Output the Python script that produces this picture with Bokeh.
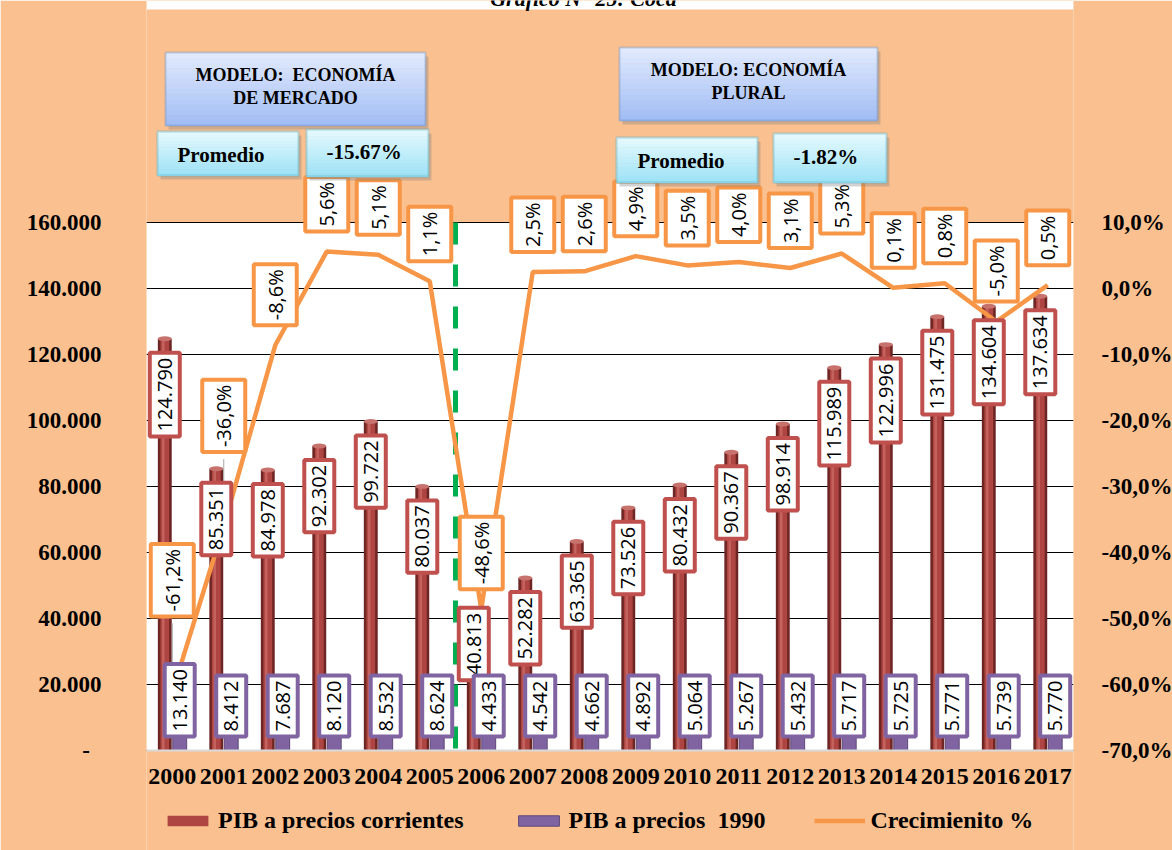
import math
from bokeh.plotting import figure
from bokeh.models import (Range1d, LinearAxis, FixedTicker, Label, BoxAnnotation,
                          Legend, LegendItem, ColumnDataSource)
from bokeh.embed import file_html
from bokeh.resources import INLINE

# ---------------- data ----------------
years = list(range(2000, 2018))
pib_corrientes = [124790, 85351, 84978, 92302, 99722, 80037, 40813, 52282, 63365,
                  73526, 80432, 90367, 98914, 115989, 122996, 131475, 134604, 137634]
pib_1990 = [13140, 8412, 7687, 8120, 8532, 8624, 4433, 4542, 4662,
            4892, 5064, 5267, 5432, 5717, 5725, 5771, 5739, 5770]
crecimiento = [-61.2, -36.0, -8.6, 5.6, 5.1, 1.1, -48.6, 2.5, 2.6,
               4.9, 3.5, 4.0, 3.1, 5.3, 0.1, 0.8, -5.0, 0.5]
left_ticks = [0, 20000, 40000, 60000, 80000, 100000, 120000, 140000, 160000]
left_tick_labels = ["-\u00a0\u00a0", "20.000", "40.000", "60.000", "80.000",
                    "100.000", "120.000", "140.000", "160.000"]
right_ticks = [-70, -60, -50, -40, -30, -20, -10, 0, 10]
right_tick_labels = ["-70,0%", "-60,0%", "-50,0%", "-40,0%", "-30,0%",
                     "-20,0%", "-10,0%", "0,0%", "10,0%"]
titulo = "Gráfico N° 25: Coca"
modelo_1 = "MODELO:\u00a0 ECONOMÍA\nDE MERCADO"
modelo_2 = "MODELO: ECONOMÍA\nPLURAL"
promedio_label = "Promedio"
promedio_1 = "-15.67%"
promedio_2 = "-1.82%"
legend_labels = ["PIB a precios corrientes", "PIB a precios\u00a0 1990", "Crecimienito %"]
corte_modelo = 2005.5

# ---------------- style / layout ----------------
BG = "#FAC090"
RED = "#C0504D"
PURPLE = "#8064A2"
ORANGE = "#F79646"
SERIF = "Liberation Serif"
SANS = "Open Sans"

W, H = 1172, 850
ML, MR = 146, 99
FW, FH = W - ML - MR, H          # frame spans the whole canvas height
PLOT_TOP, PLOT_BOTTOM = 222, 750  # white plot area, px from the top
PLOT_H = PLOT_BOTTOM - PLOT_TOP
ppd = PLOT_H / (left_ticks[-1] - left_ticks[0])       # px per PIB unit
y_lo = left_ticks[0] - (FH - PLOT_BOTTOM) / ppd
y_hi = left_ticks[-1] + PLOT_TOP / ppd
ppu = PLOT_H / (right_ticks[-1] - right_ticks[0])     # px per % unit
pct_lo = right_ticks[0] - (FH - PLOT_BOTTOM) / ppu
pct_hi = right_ticks[-1] + PLOT_TOP / ppu

p = figure(frame_width=FW, frame_height=FH, x_range=Range1d(1999.5, 2017.5),
           y_range=Range1d(y_lo, y_hi), output_backend="svg", toolbar_location=None,
           min_border_left=ML, min_border_right=MR, min_border_top=0,
           min_border_bottom=0, background_fill_color=BG,
           border_fill_color=BG, outline_line_color=None)
p.extra_y_ranges = {"pct": Range1d(pct_lo, pct_hi)}

# white plot area
p.add_layout(BoxAnnotation(bottom=left_ticks[0], top=left_ticks[-1], fill_color="white",
                           fill_alpha=1, line_color=None, level="image"))

# axes
xa = p.xaxis[0]
xa.fixed_location = left_ticks[0]
xa.ticker = FixedTicker(ticks=years)
xa.major_label_overrides = {y: str(y) for y in years}
xa.major_tick_line_color = None
xa.minor_tick_line_color = None
xa.axis_line_color = "#D9D9D9"
xa.axis_line_width = 2
xa.major_label_standoff = 12
xa.major_label_text_font = SERIF
xa.major_label_text_font_style = "bold"
xa.major_label_text_font_size = "24px"
xa.major_label_text_color = "black"

ya = p.yaxis[0]
ya.ticker = FixedTicker(ticks=left_ticks)
ya.major_label_overrides = dict(zip(left_ticks, left_tick_labels))
ya.major_tick_line_color = None
ya.minor_tick_line_color = None
ya.axis_line_color = None
ya.major_label_standoff = 39
ya.major_label_text_font = SERIF
ya.major_label_text_font_style = "bold"
ya.major_label_text_font_size = "23px"
ya.major_label_text_color = "black"

ra = LinearAxis(y_range_name="pct", ticker=FixedTicker(ticks=right_ticks),
                major_label_overrides=dict(zip(right_ticks, right_tick_labels)))
ra.major_tick_line_color = None
ra.minor_tick_line_color = None
ra.axis_line_color = None
ra.major_label_standoff = 22
ra.major_label_text_font = SERIF
ra.major_label_text_font_style = "bold"
ra.major_label_text_font_size = "23px"
ra.major_label_text_color = "black"
p.add_layout(ra, "right")

p.xgrid.visible = False
p.ygrid.ticker = FixedTicker(ticks=left_ticks)
p.ygrid.grid_line_color = "black"
p.ygrid.grid_line_width = 1

# bars
dx, bw = 0.145, 0.27
src = ColumnDataSource(dict(
    xc=[y - dx for y in years], xh=[y - dx - 0.03 for y in years],
    xp=[y + dx for y in years], corr=pib_corrientes, p90=pib_1990))
p.vbar(x="xc", top="corr", width=bw, fill_color="#6E2624", line_color=None, source=src)
r_red = p.vbar(x="xc", top="corr", width=0.17, fill_color="#AE4542", line_color=None, source=src)
p.vbar(x="xh", top="corr", width=0.05, fill_color="#C4625E", line_color=None, source=src)
p.ellipse(x="xc", y="corr", width=bw, height=1500, fill_color="#C8726E", line_color=None, source=src)
r_pur = p.vbar(x="xp", top="p90", width=bw, fill_color=PURPLE, line_color="#5E4878", source=src)
p.ellipse(x="xp", y="p90", width=bw, height=1500, fill_color="#9C86BC", line_color=None, source=src)

# model split (dashed green)
p.segment(x0=[corte_modelo], x1=[corte_modelo], y0=[left_ticks[-1]], y1=[left_ticks[0]],
          line_color="#00B050", line_width=5, line_dash="22 20")

# growth line
r_line = p.line(years, crecimiento, y_range_name="pct", line_color=ORANGE, line_width=4.5)

# label lifts (px) and leader lines for the two displaced labels
lift = [69, 67] + [13] * 16
leader_gap = [2, 25]
p.segment(x0=years[:2], x1=years[:2],
          y0=[crecimiento[i] + leader_gap[i] / ppu for i in range(2)],
          y1=[crecimiento[i] + lift[i] / ppu for i in range(2)],
          y_range_name="pct", line_color="#A6A6A6", line_width=1)

red_shift = [0] * 18
red_shift[6] = 22

def fmt_int(v):
    return f"{v:,}".replace(",", ".")

def fmt_pct(v):
    return f"{v:.1f}%".replace(".", ",")

PAD_ALONG, PAD_ACROSS, BORDER = 5, 8, 4
common = dict(angle=90, angle_units="deg", text_font=SANS, text_font_size="20px",
              text_color="black", background_fill_color="white",
              border_line_width=BORDER, text_baseline="middle",
              padding=dict(left=PAD_ALONG, right=PAD_ALONG, top=PAD_ACROSS, bottom=PAD_ACROSS))
edge = PAD_ALONG + BORDER // 2

for i, yr in enumerate(years):
    p.add_layout(Label(x=yr - dx, y=pib_corrientes[i], text=fmt_int(pib_corrientes[i]),
                       text_align="right", y_offset=-(7 + edge) + red_shift[i],
                       border_line_color=RED, **common))
    p.add_layout(Label(x=yr + dx, y=0, text=fmt_int(pib_1990[i]),
                       text_align="left", y_offset=7 + edge,
                       border_line_color=PURPLE, **common))
    p.add_layout(Label(x=yr, y=crecimiento[i], y_range_name="pct", text=fmt_pct(crecimiento[i]),
                       text_align="left", y_offset=lift[i] + edge,
                       border_line_color=ORANGE, **common))

# ---------------- header boxes (screen units relative to the frame) ----------------
def fx(px):
    return px - ML

def fy(py):
    return FH - py

def mix(c1, c2, t):
    a = [int(c1[k:k + 2], 16) for k in (1, 3, 5)]
    b = [int(c2[k:k + 2], 16) for k in (1, 3, 5)]
    return "#" + "".join(f"{round(a[j] + (b[j] - a[j]) * t):02x}" for j in range(3))

def scr_box(l, t, r, b, **kw):
    return BoxAnnotation(left=fx(l), right=fx(r), top=fy(t), bottom=fy(b),
                         left_units="screen", right_units="screen",
                         top_units="screen", bottom_units="screen", **kw)

def gradient_box(l, t, r, b, c_top, c_bot, border, bwidth, n=14):
    p.add_layout(scr_box(l + 3, t + 4, r + 3, b + 4, fill_color="#7F7F7F",
                         fill_alpha=0.35, line_color=None))
    step = (b - t) / n
    for k in range(n):
        p.add_layout(scr_box(l, t + k * step, r, t + (k + 1) * step + 0.6,
                             fill_color=mix(c_top, c_bot, k / (n - 1)),
                             fill_alpha=1, line_color=None))
    p.add_layout(scr_box(l, t, r, b, fill_alpha=0, line_color=border,
                         line_width=bwidth))

BLUE_T, BLUE_B, BLUE_L = "#E0E9FD", "#A3BEF4", "#4F81BD"
CYAN_T, CYAN_B, CYAN_L = "#E4F9FE", "#9FE2F6", "#4BACC6"

# white strip + cut title at the very top
p.add_layout(BoxAnnotation(bottom=fy(9), bottom_units="screen", fill_color="white",
                           fill_alpha=1, line_color=None))
p.add_layout(Label(x=fx(583), y=fy(-2), x_units="screen", y_units="screen", text=titulo,
                   text_align="center", text_baseline="alphabetic", text_font=SERIF,
                   text_font_style="bold italic", text_font_size="22px", text_color="black"))

gradient_box(165, 52, 425, 125, BLUE_T, BLUE_B, BLUE_L, 2)
gradient_box(619, 47, 877, 120, BLUE_T, BLUE_B, BLUE_L, 2)
gradient_box(157, 131, 298, 175, CYAN_T, CYAN_B, CYAN_L, 2.5)
gradient_box(306, 129, 428, 176, CYAN_T, CYAN_B, CYAN_L, 2.5)
gradient_box(616, 137, 757, 182, CYAN_T, CYAN_B, CYAN_L, 2.5)
gradient_box(773, 133, 886, 182, CYAN_T, CYAN_B, CYAN_L, 2.5)

head = dict(text_font=SERIF, text_font_style="bold", text_color="black",
            x_units="screen", y_units="screen", text_baseline="middle")
p.add_layout(Label(x=fx(295), y=fy(86), text=modelo_1, text_align="center",
                   text_font_size="18px", text_line_height=1.15, **head))
p.add_layout(Label(x=fx(748), y=fy(81), text=modelo_2, text_align="center",
                   text_font_size="18px", text_line_height=1.15, **head))
p.add_layout(Label(x=fx(177), y=fy(154), text=promedio_label, text_align="left",
                   text_font_size="21px", **head))
p.add_layout(Label(x=fx(326), y=fy(151.5), text=promedio_1, text_align="left",
                   text_font_size="21px", **head))
p.add_layout(Label(x=fx(637), y=fy(160), text=promedio_label, text_align="left",
                   text_font_size="21px", **head))
p.add_layout(Label(x=fx(793), y=fy(156.5), text=promedio_2, text_align="left",
                   text_font_size="21px", **head))

# legend (inside the frame, under the year labels)
legend = Legend(items=[LegendItem(label=legend_labels[0], renderers=[r_red]),
                       LegendItem(label=legend_labels[1], renderers=[r_pur]),
                       LegendItem(label=legend_labels[2], renderers=[r_line])],
                location=(fx(162), FH - 834), orientation="horizontal", glyph_width=51,
                glyph_height=13, label_standoff=5, spacing=49, padding=0, margin=0,
                border_line_color=None, background_fill_alpha=0,
                label_text_font=SERIF, label_text_font_style="bold",
                label_text_font_size="24px", label_text_color="black")
p.add_layout(legend)

open("out.html", "w").write(file_html(p, INLINE))
